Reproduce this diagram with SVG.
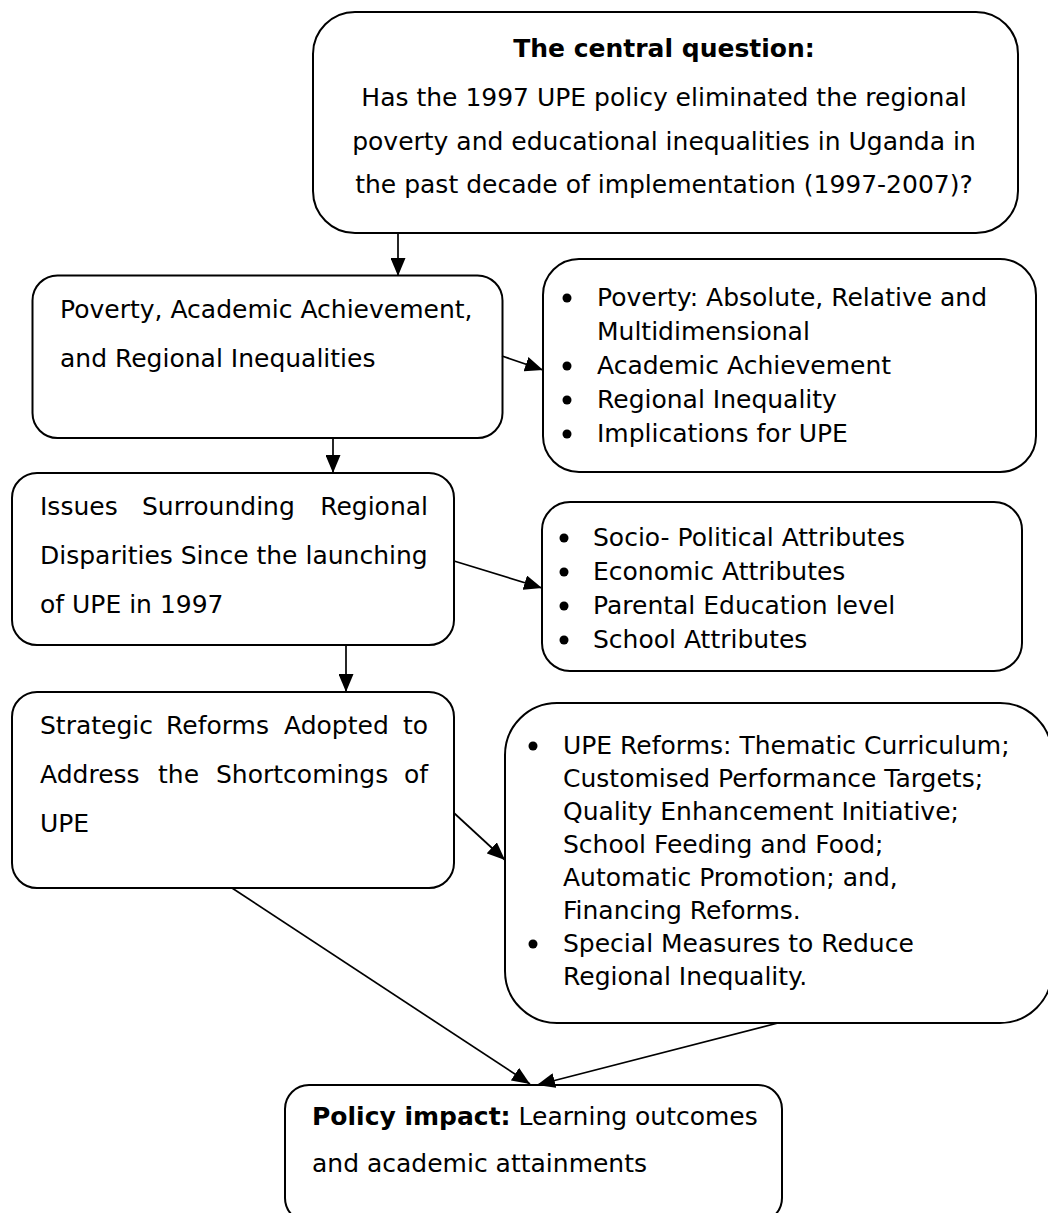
<svg xmlns="http://www.w3.org/2000/svg" width="1048" height="1213" viewBox="0 0 1048 1213">
<style>
.box{fill:#fff;stroke:#000;stroke-width:2}
text{font-family:"DejaVu Sans",Verdana,sans-serif;font-size:25px;fill:#000}
.b{font-weight:bold}
.c{text-anchor:middle}
.e{text-anchor:end}
.conn line{stroke:#000;stroke-width:1.7;marker-end:url(#ah)}
.dot{fill:#000}
</style>
<defs>
<marker id="ah" markerUnits="userSpaceOnUse" markerWidth="19" markerHeight="15" refX="18" refY="7.5" orient="auto">
<path d="M0,0 L18,7.5 L0,15 z" fill="#000"/>
</marker>
</defs>
<rect width="1048" height="1213" fill="#fff"/>

<g id="central">
<rect class="box" x="313" y="12" width="705" height="221" rx="42"/>
<text class="c b" x="664" y="57">The central question:</text>
<text class="c" x="664" y="106">Has the 1997 UPE policy eliminated the regional</text>
<text class="c" x="664" y="150">poverty and educational inequalities in Uganda in</text>
<text class="c" x="664" y="193">the past decade of implementation (1997-2007)?</text>
</g>

<g id="poverty">
<rect class="box" x="32.5" y="275.5" width="470" height="162.5" rx="25"/>
<text x="60" y="318">Poverty, Academic Achievement,</text>
<text x="60" y="367">and Regional Inequalities</text>
</g>

<g id="poverty-list">
<rect class="box" x="543" y="259" width="493" height="213" rx="36"/>
<circle class="dot" cx="567" cy="298" r="4.5"/>
<text x="597" y="306">Poverty: Absolute, Relative and</text>
<text x="597" y="340">Multidimensional</text>
<circle class="dot" cx="567" cy="366" r="4.5"/>
<text x="597" y="374">Academic Achievement</text>
<circle class="dot" cx="567" cy="400" r="4.5"/>
<text x="597" y="408">Regional Inequality</text>
<circle class="dot" cx="567" cy="434" r="4.5"/>
<text x="597" y="442">Implications for UPE</text>
</g>

<g id="issues">
<rect class="box" x="12" y="473" width="442" height="172" rx="25"/>
<text y="515"><tspan x="40">Issues</tspan><tspan x="142">Surrounding</tspan><tspan x="428" class="e">Regional</tspan></text>
<text x="40" y="564">Disparities Since the launching</text>
<text x="40" y="613">of UPE in 1997</text>
</g>

<g id="issues-list">
<rect class="box" x="542" y="502" width="480" height="169" rx="28"/>
<circle class="dot" cx="564" cy="538" r="4.5"/>
<text x="593" y="546">Socio- Political Attributes</text>
<circle class="dot" cx="564" cy="572" r="4.5"/>
<text x="593" y="580">Economic Attributes</text>
<circle class="dot" cx="564" cy="606" r="4.5"/>
<text x="593" y="614">Parental Education level</text>
<circle class="dot" cx="564" cy="640" r="4.5"/>
<text x="593" y="648">School Attributes</text>
</g>

<g id="reforms">
<rect class="box" x="12" y="692" width="442" height="196" rx="25"/>
<text y="734"><tspan x="40">Strategic</tspan><tspan x="166">Reforms</tspan><tspan x="284">Adopted</tspan><tspan x="428" class="e">to</tspan></text>
<text y="783"><tspan x="40">Address</tspan><tspan x="158">the</tspan><tspan x="216">Shortcomings</tspan><tspan x="428" class="e">of</tspan></text>
<text x="40" y="832">UPE</text>
</g>

<g id="reforms-list">
<rect class="box" x="505" y="703" width="547" height="320" rx="52"/>
<circle class="dot" cx="533" cy="746" r="4.5"/>
<text x="563" y="754">UPE Reforms: Thematic Curriculum;</text>
<text x="563" y="787">Customised Performance Targets;</text>
<text x="563" y="820">Quality Enhancement Initiative;</text>
<text x="563" y="853">School Feeding and Food;</text>
<text x="563" y="886">Automatic Promotion; and,</text>
<text x="563" y="919">Financing Reforms.</text>
<circle class="dot" cx="533" cy="944" r="4.5"/>
<text x="563" y="952">Special Measures to Reduce</text>
<text x="563" y="985">Regional Inequality.</text>
</g>

<g id="impact">
<rect class="box" x="285" y="1085" width="497" height="137" rx="24"/>
<text y="1125"><tspan x="312" class="b">Policy impact:</tspan><tspan> Learning outcomes</tspan></text>
<text x="312" y="1172">and academic attainments</text>
</g>

<g id="connectors" class="conn">
<line x1="398" y1="233" x2="398" y2="276"/>
<line x1="502" y1="356" x2="543" y2="370"/>
<line x1="333" y1="438" x2="333" y2="473"/>
<line x1="454" y1="561" x2="542" y2="588"/>
<line x1="346" y1="645" x2="346" y2="692"/>
<line x1="454" y1="813" x2="505" y2="860"/>
<line x1="232" y1="888" x2="530" y2="1084"/>
<line x1="778" y1="1023" x2="537" y2="1085"/>
</g>
</svg>
